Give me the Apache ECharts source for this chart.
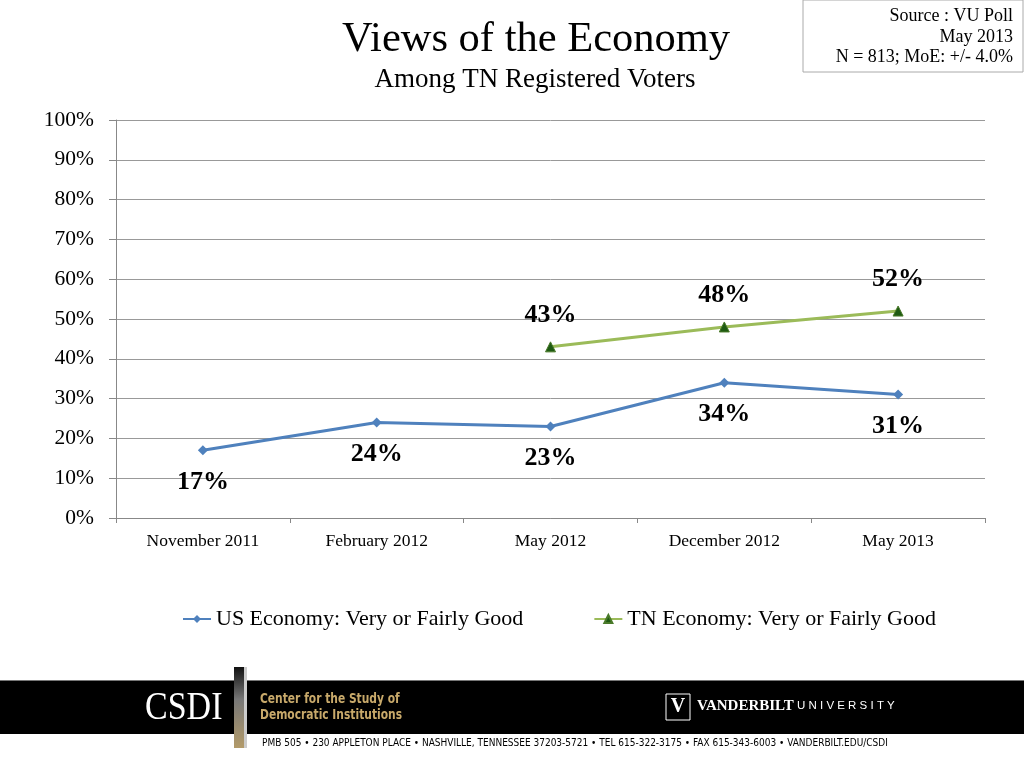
<!DOCTYPE html>
<html><head><meta charset="utf-8">
<script src="https://cdn.jsdelivr.net/npm/echarts@6/dist/echarts.min.js"></script>
<style>html,body{margin:0;padding:0;background:#fff}#c{width:1024px;height:768px}</style>
</head><body><div id="c"></div>
<script>
var categories = ['November 2011','February 2012','May 2012','December 2012','May 2013'];
var usEconomy = [17, 24, 23, 34, 31];
var tnEconomy = [null, null, 43, 48, 52];

var serif = '"Liberation Serif","Times New Roman",serif';
var narrow = '"Liberation Sans Narrow","DejaVu Sans Condensed",sans-serif';
var chart = echarts.init(document.getElementById('c'));
chart.setOption({
  backgroundColor:'#fff',
  animation:false,
  title:[
    {text:'Views of the Economy', left:531, top:13, textAlign:'center',
     textStyle:{fontFamily:serif, fontSize:42.5, fontWeight:'normal', color:'#000'}},
    {text:'Among TN Registered Voters', left:530, top:61, textAlign:'center',
     textStyle:{fontFamily:serif, fontSize:27, fontWeight:'normal', color:'#000'}}
  ],
  grid:{left:116, right:39, top:120, bottom:250, containLabel:false},
  legend:{
    top:603, left:177, itemGap:70, itemWidth:28, itemHeight:10,
    textStyle:{fontFamily:serif, fontSize:22, color:'#000'},
    data:['US Economy: Very or Fairly Good','TN Economy: Very or Fairly Good']
  },
  xAxis:{type:'category', data:categories, boundaryGap:true,
    axisLine:{lineStyle:{color:'#888'}},
    axisTick:{show:true, length:5, lineStyle:{color:'#888'}},
    axisLabel:{fontFamily:serif, fontSize:17.5, color:'#000', margin:14}
  },
  yAxis:{type:'value', min:0, max:100, interval:10,
    axisLine:{show:true, lineStyle:{color:'#888'}},
    axisTick:{show:true, length:7, lineStyle:{color:'#888'}},
    splitLine:{lineStyle:{color:'#999', width:1}},
    axisLabel:{fontFamily:serif, fontSize:21.5, color:'#000', margin:22,
      formatter:function(v){return v+'%';}}
  },
  series:[
    {name:'US Economy: Very or Fairly Good', type:'line', data:usEconomy,
     symbol:'diamond', symbolSize:10,
     lineStyle:{color:'#4F81BD', width:3}, itemStyle:{color:'#4F81BD'},
     label:{show:true, position:'bottom', distance:14, fontFamily:serif, fontSize:26, fontWeight:'bold', color:'#000',
       formatter:function(p){return p.value+'%';}}
    },
    {name:'TN Economy: Very or Fairly Good', type:'line', data:tnEconomy,
     symbol:'triangle', symbolSize:10,
     lineStyle:{color:'#9BBB59', width:3}, itemStyle:{color:'#1E5A12', borderColor:'#4a7a2a', borderWidth:1},
     label:{show:true, position:'top', distance:13, fontFamily:serif, fontSize:26, fontWeight:'bold', color:'#000',
       formatter:function(p){return p.value+'%';}}
    }
  ],
  graphic:[
    {type:'rect', shape:{x:803, y:0, width:220, height:72}, style:{fill:'#fff', stroke:'#aaa', lineWidth:1}},
    {type:'text', x:1013, y:7, style:{text:'Source : VU Poll', textAlign:'right', font:'18px '+serif, fill:'#000'}},
    {type:'text', x:1013, y:28, style:{text:'May 2013', textAlign:'right', font:'18px '+serif, fill:'#000'}},
    {type:'text', x:1013, y:48, style:{text:'N = 813; MoE: +/- 4.0%', textAlign:'right', font:'18px '+serif, fill:'#000'}},
    {type:'rect', shape:{x:0, y:680, width:1024, height:54}, style:{fill:'#000'}},
    {type:'rect', shape:{x:0, y:680, width:1024, height:1}, style:{fill:'#777'}},
    {type:'text', x:145, y:688, scaleX:0.85, style:{text:'CSDI', font:'40px '+serif, fill:'#fff'}},
    {type:'rect', shape:{x:234, y:667, width:10, height:81},
      style:{fill:{type:'linear', x:0, y:0, x2:0, y2:1, colorStops:[{offset:0,color:'#111'},{offset:0.4,color:'#777'},{offset:1,color:'#b39b6a'}]}}},
    {type:'rect', shape:{x:244, y:667, width:3, height:81}, style:{fill:'#ccc'}},
    {type:'text', x:260, y:692, scaleX:0.85, style:{text:'Center for the Study of', font:'bold 14px '+narrow, fill:'#c8a96a'}},
    {type:'text', x:260, y:708, scaleX:0.85, style:{text:'Democratic Institutions', font:'bold 14px '+narrow, fill:'#c8a96a'}},
    {type:'rect', shape:{x:666, y:694, width:24, height:26}, style:{fill:'#000', stroke:'#fff', lineWidth:1}},
    {type:'text', x:678, y:697, style:{text:'V', textAlign:'center', font:'bold 20px '+serif, fill:'#fff'}},
    {type:'text', x:697, y:699, style:{text:'VANDERBILT', font:'bold 15px '+serif, fill:'#fff'}},
    {type:'text', x:797, y:700, style:{text:'U N I V E R S I T Y', font:'11.5px "Liberation Sans",sans-serif', fill:'#fff'}},
    {type:'text', x:262, y:738, style:{text:'PMB 505 • 230 APPLETON PLACE • NASHVILLE, TENNESSEE 37203-5721 • TEL 615-322-3175 • FAX 615-343-6003 • VANDERBILT.EDU/CSDI', font:'10px '+narrow, fill:'#000'}}
  ]
});
</script></body></html>
